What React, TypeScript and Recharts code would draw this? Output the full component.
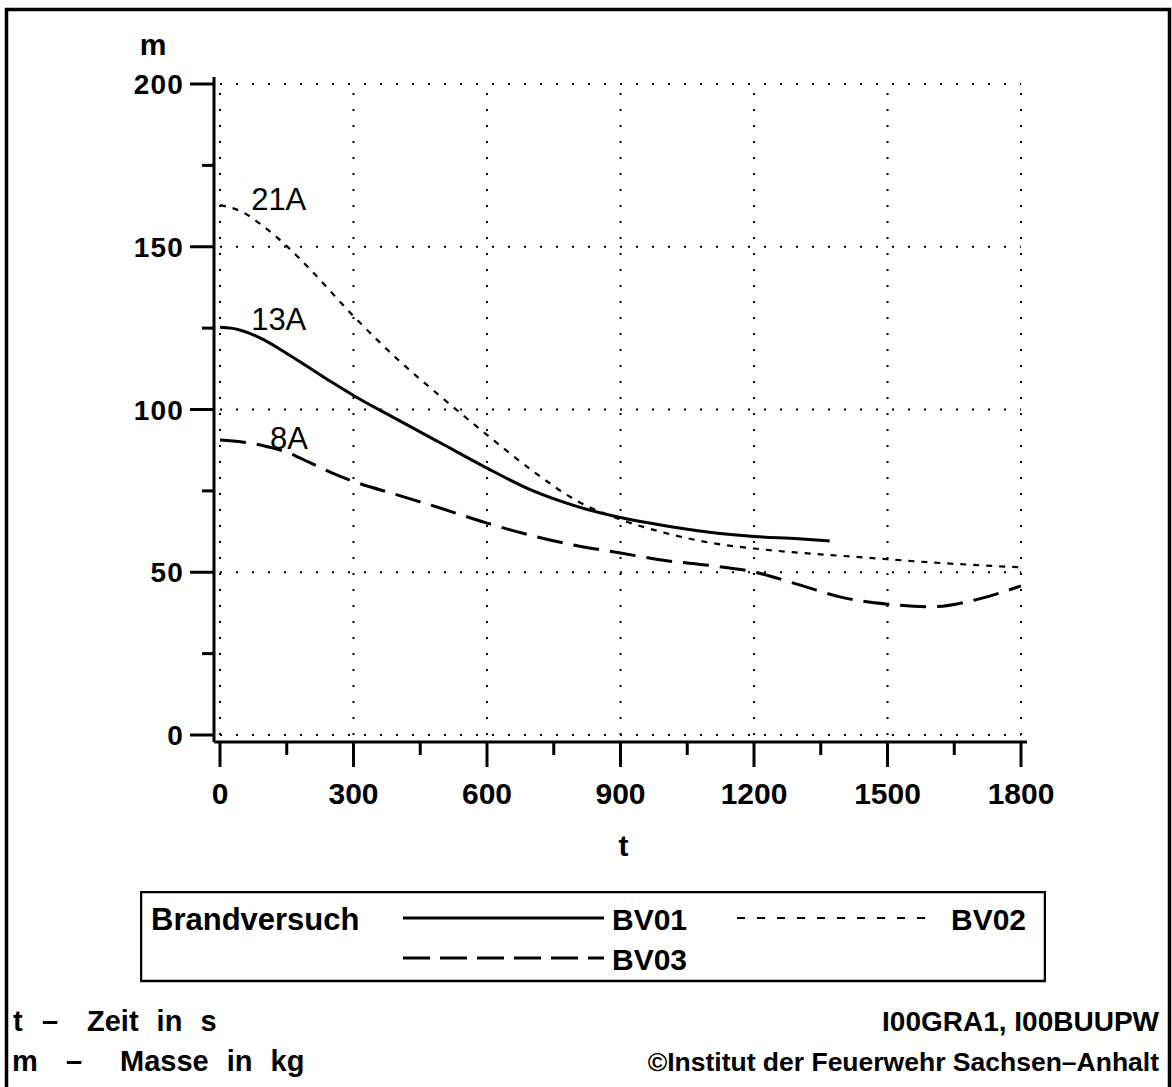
import React from 'react';
import { LineChart, Line, XAxis, YAxis, ReferenceLine, ReferenceDot, Legend } from 'recharts';

// ---- data ----
const timesBV01 = [0, 25, 50, 100, 150, 200, 250, 300, 400, 500, 600, 700, 800, 900, 1000, 1100, 1200, 1300, 1370];
const massBV01 = [125.3, 125.0, 124.2, 121.3, 117.2, 112.9, 108.5, 104.3, 96.8, 89.4, 82.0, 75.2, 70.3, 66.8, 64.3, 62.3, 61.0, 60.3, 59.6];

const timesBV02 = [0, 50, 100, 150, 200, 300, 400, 500, 600, 700, 800, 900, 1000, 1100, 1200, 1300, 1400, 1500, 1600, 1700, 1800];
const massBV02 = [162.8, 160.7, 156.0, 150.2, 143.4, 128.7, 115.3, 103.5, 92.2, 81.4, 72.1, 66.2, 62.1, 59.1, 57.3, 56.0, 55.0, 54.0, 53.0, 52.2, 51.5];

const timesBV03 = [0, 50, 100, 150, 200, 250, 300, 400, 500, 600, 700, 800, 900, 1000, 1100, 1200, 1300, 1400, 1500, 1600, 1700, 1800];
const massBV03 = [90.6, 90.0, 88.8, 86.9, 83.8, 80.6, 77.9, 73.7, 69.5, 65.1, 61.3, 58.2, 55.9, 53.6, 52.1, 50.1, 46.2, 42.2, 40.2, 39.4, 41.6, 45.8];

const xMajorTicks = [0, 300, 600, 900, 1200, 1500, 1800];
const xAllTicks = [0, 150, 300, 450, 600, 750, 900, 1050, 1200, 1350, 1500, 1650, 1800];
const yMajorTicks = [0, 50, 100, 150, 200];
const yAllTicks = [0, 25, 50, 75, 100, 125, 150, 175, 200];

const seriesNames = ['BV01', 'BV02', 'BV03'];
const curveLabels = [
  { text: '21A', t: 132, m: 164.7 },
  { text: '13A', t: 132, m: 127.8 },
  { text: '8A', t: 155, m: 91.2 },
];
const legendTitle = 'Brandversuch';
const axisTitleX = 't';
const axisTitleY = 'm';
const notesLeft = [
  { sym: 't', text: 'Zeit in s' },
  { sym: 'm', text: 'Masse in kg' },
];
const notesRight = ['I00GRA1, I00BUUPW', '©Institut der Feuerwehr Sachsen–Anhalt'];

const toData = (ts: number[], ms: number[]) => ts.map((t, i) => ({ t, m: ms[i] }));
const bv01Data = toData(timesBV01, massBV01);
const bv02Data = toData(timesBV02, massBV02);
const bv03Data = toData(timesBV03, massBV03);

const FONT = "'Liberation Sans', Arial, Helvetica, sans-serif";

const YTick = (props: any) => {
  const { x, y, payload } = props;
  const major = yMajorTicks.includes(payload.value);
  return (
    <g>
      <line x1={x - (major ? 24 : 12)} x2={x} y1={y} y2={y} stroke="#000" strokeWidth={3} />
      {major && (
        <text x={x - 30} y={y + 10} textAnchor="end" fontSize={28} fontWeight="bold" fontFamily={FONT} fill="#000" letterSpacing={1.2}>
          {payload.value}
        </text>
      )}
    </g>
  );
};

const XTick = (props: any) => {
  const { x, y, payload } = props;
  const major = xMajorTicks.includes(payload.value);
  return (
    <g>
      <line x1={x} x2={x} y1={y} y2={y + (major ? 25 : 13)} stroke="#000" strokeWidth={3} />
      {major && (
        <text x={x} y={y + 62} textAnchor="middle" fontSize={30} fontWeight="bold" fontFamily={FONT} fill="#000">
          {payload.value}
        </text>
      )}
    </g>
  );
};

const LegendBox = () => (
  <svg width={906} height={92} style={{ display: 'block' }}>
    <rect x={1} y={1} width={904} height={89} fill="#fff" stroke="#000" strokeWidth={2.5} />
    <text x={11} y={39} fontSize={31} fontWeight="bold" fontFamily={FONT} fill="#000">{legendTitle}</text>
    <line x1={263} x2={464} y1={27} y2={27} stroke="#000" strokeWidth={3} />
    <text x={472} y={39} fontSize={30} fontWeight="bold" fontFamily={FONT} fill="#000">{seriesNames[0]}</text>
    <line x1={597} x2={797} y1={27} y2={27} stroke="#000" strokeWidth={2.2} strokeDasharray="8 12" />
    <text x={811} y={39} fontSize={30} fontWeight="bold" fontFamily={FONT} fill="#000">{seriesNames[1]}</text>
    <line x1={263} x2={464} y1={67} y2={67} stroke="#000" strokeWidth={3} strokeDasharray="27 10" />
    <text x={472} y={79} fontSize={30} fontWeight="bold" fontFamily={FONT} fill="#000">{seriesNames[2]}</text>
  </svg>
);

export default function App() {
  return (
    <div style={{ position: 'absolute', left: 0, top: 0, width: 1172, height: 1087, background: '#fff', overflow: 'hidden' }}>
      <LineChart
        width={1172}
        height={1087}
        margin={{ top: 77, right: 145, bottom: 225, left: 154 }}
        style={{ fontFamily: FONT }}
      >
        <XAxis
          dataKey="t"
          type="number"
          domain={[0, 1800]}
          ticks={xAllTicks}
          interval={0}
          padding={{ left: 6, right: 6 }}
          height={120}
          axisLine={{ stroke: '#000', strokeWidth: 3 }}
          tickLine={false}
          tickSize={0}
          tickMargin={0}
          tick={<XTick />}
          label={(p: any) => {
            const vb = p.viewBox;
            return (
              <text x={vb.x + vb.width / 2 + 3} y={vb.y + 114} textAnchor="middle" fontSize={30} fontWeight="bold" fontFamily={FONT} fill="#000">
                {axisTitleX}
              </text>
            );
          }}
        />
        <YAxis
          type="number"
          domain={[0, 200]}
          ticks={yAllTicks}
          interval={0}
          padding={{ top: 7, bottom: 7 }}
          width={60}
          axisLine={{ stroke: '#000', strokeWidth: 3 }}
          tickLine={false}
          tickSize={0}
          tickMargin={0}
          tick={<YTick />}
          label={(p: any) => {
            const vb = p.viewBox;
            return (
              <text x={vb.x + vb.width - 61} y={vb.y - 22} textAnchor="middle" fontSize={30} fontWeight="bold" fontFamily={FONT} fill="#000">
                {axisTitleY}
              </text>
            );
          }}
        />
        {yMajorTicks.map((v) => (
          <ReferenceLine
            key={'h' + v}
            segment={[{ x: 0, y: v }, { x: 1800, y: v }]}
            stroke="#000"
            strokeWidth={2}
            strokeDasharray="2 14"
          />
        ))}
        {xMajorTicks.map((v) => (
          <ReferenceLine
            key={'v' + v}
            segment={[{ x: v, y: 0 }, { x: v, y: 200 }]}
            stroke="#000"
            strokeWidth={2}
            strokeDasharray="2 14"
          />
        ))}
        <Line data={bv01Data} dataKey="m" name={seriesNames[0]} type="monotone" stroke="#000" strokeWidth={3} dot={false} activeDot={false} isAnimationActive={false} />
        <Line data={bv02Data} dataKey="m" name={seriesNames[1]} type="monotone" stroke="#000" strokeWidth={2.2} strokeDasharray="6 7" dot={false} activeDot={false} isAnimationActive={false} />
        <Line data={bv03Data} dataKey="m" name={seriesNames[2]} type="monotone" stroke="#000" strokeWidth={3} strokeDasharray="26 11" dot={false} activeDot={false} isAnimationActive={false} />
        {curveLabels.map((c) => (
          <ReferenceDot
            key={c.text}
            x={c.t}
            y={c.m}
            r={1}
            fill="none"
            stroke="none"
            label={{ value: c.text, position: 'center', fontSize: 31, fill: '#000', fontFamily: FONT }}
          />
        ))}
        <Legend
          layout="horizontal"
          verticalAlign="middle"
          align="center"
          content={() => <LegendBox />}
          wrapperStyle={{ position: 'absolute', left: 140, top: 891, width: 906, height: 92 }}
        />
      </LineChart>
      <svg width={1172} height={1087} style={{ position: 'absolute', left: 0, top: 0, pointerEvents: 'none' }}>
        <path d="M6.5,1100 V9.5 H1169.5 V1100" fill="none" stroke="#000" strokeWidth={3.5} />
        {notesLeft.map((n, i) => (
          <g key={n.sym} fontSize={29} fontWeight="bold" fontFamily={FONT} fill="#000">
            <text x={i === 0 ? 13 : 12} y={1031 + i * 40}>{n.sym}</text>
            <text x={i === 0 ? 42 : 66} y={1031 + i * 40}>–</text>
            <text x={i === 0 ? 87 : 120} y={1031 + i * 40} wordSpacing={10}>{n.text}</text>
          </g>
        ))}
        {notesRight.map((n, i) => (
          <text key={n} x={1159} y={1031 + i * 40} textAnchor="end" fontSize={i === 0 ? 28 : 26.5} fontWeight="bold" fontFamily={FONT} fill="#000">
            {n}
          </text>
        ))}
      </svg>
    </div>
  );
}
